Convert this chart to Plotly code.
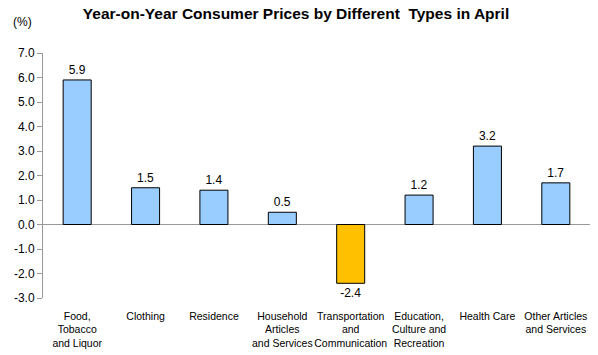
import plotly.graph_objects as go

categories = ["Food,<br>Tobacco<br>and Liquor", "Clothing", "Residence",
              "Household<br>Articles<br>and Services", "Transportation<br>and<br>Communication",
              "Education,<br>Culture and<br>Recreation", "Health Care",
              "Other Articles<br>and Services"]
values = [5.9, 1.5, 1.4, 0.5, -2.4, 1.2, 3.2, 1.7]
labels = ["5.9", "1.5", "1.4", "0.5", "-2.4", "1.2", "3.2", "1.7"]
y_ticks = [7, 6, 5, 4, 3, 2, 1, 0, -1, -2, -3]

colors = ["#99CCFF" if v >= 0 else "#FFC000" for v in values]
FONT = "Arial, Liberation Sans, sans-serif"

fig = go.Figure(go.Bar(
    x=list(range(len(categories))), y=values, text=labels, textposition="outside",
    textfont=dict(family=FONT, size=12, color="#000"),
    marker=dict(color=colors, line=dict(color="#000", width=1)),
    width=0.41, cliponaxis=False,
))

fig.update_layout(
    width=598, height=355,
    margin=dict(l=43, r=8, t=53, b=57, autoexpand=False),
    paper_bgcolor="white", plot_bgcolor="white",
    showlegend=False,
    title=dict(text="<b>Year-on-Year Consumer Prices by Different  Types in April</b>",
               x=0.495, xanchor="center", y=0.962, yanchor="middle",
               font=dict(family=FONT, size=15.5, color="#000")),
)
fig.add_annotation(text="(%)", xref="paper", yref="paper", x=-0.038, y=1.127,
                   xanchor="center", yanchor="middle", showarrow=False,
                   font=dict(family=FONT, size=12, color="#000"))

fig.update_xaxes(
    tickmode="array", tickvals=list(range(len(categories))), ticktext=categories,
    range=[-0.5, len(categories) - 0.5], showline=False, showgrid=False,
    ticks="outside", ticklen=8, tickcolor="rgba(0,0,0,0)", automargin=False,
    tickangle=0, tickfont=dict(family=FONT, size=10.5, color="#000"),
    zeroline=False,
)
fig.update_yaxes(
    range=[-3, 7], tickvals=y_ticks, ticktext=[f"{t:.1f}" for t in y_ticks],
    showline=True, linecolor="#999", linewidth=1, ticks="outside", ticklen=5,
    tickcolor="#999", showgrid=False, zeroline=True, zerolinecolor="#999",
    zerolinewidth=1, automargin=False,
    tickfont=dict(family=FONT, size=12, color="#000"),
)

fig.write_html("out.html", config={"displayModeBar": False},
               post_script="document.body.style.margin='0';")
